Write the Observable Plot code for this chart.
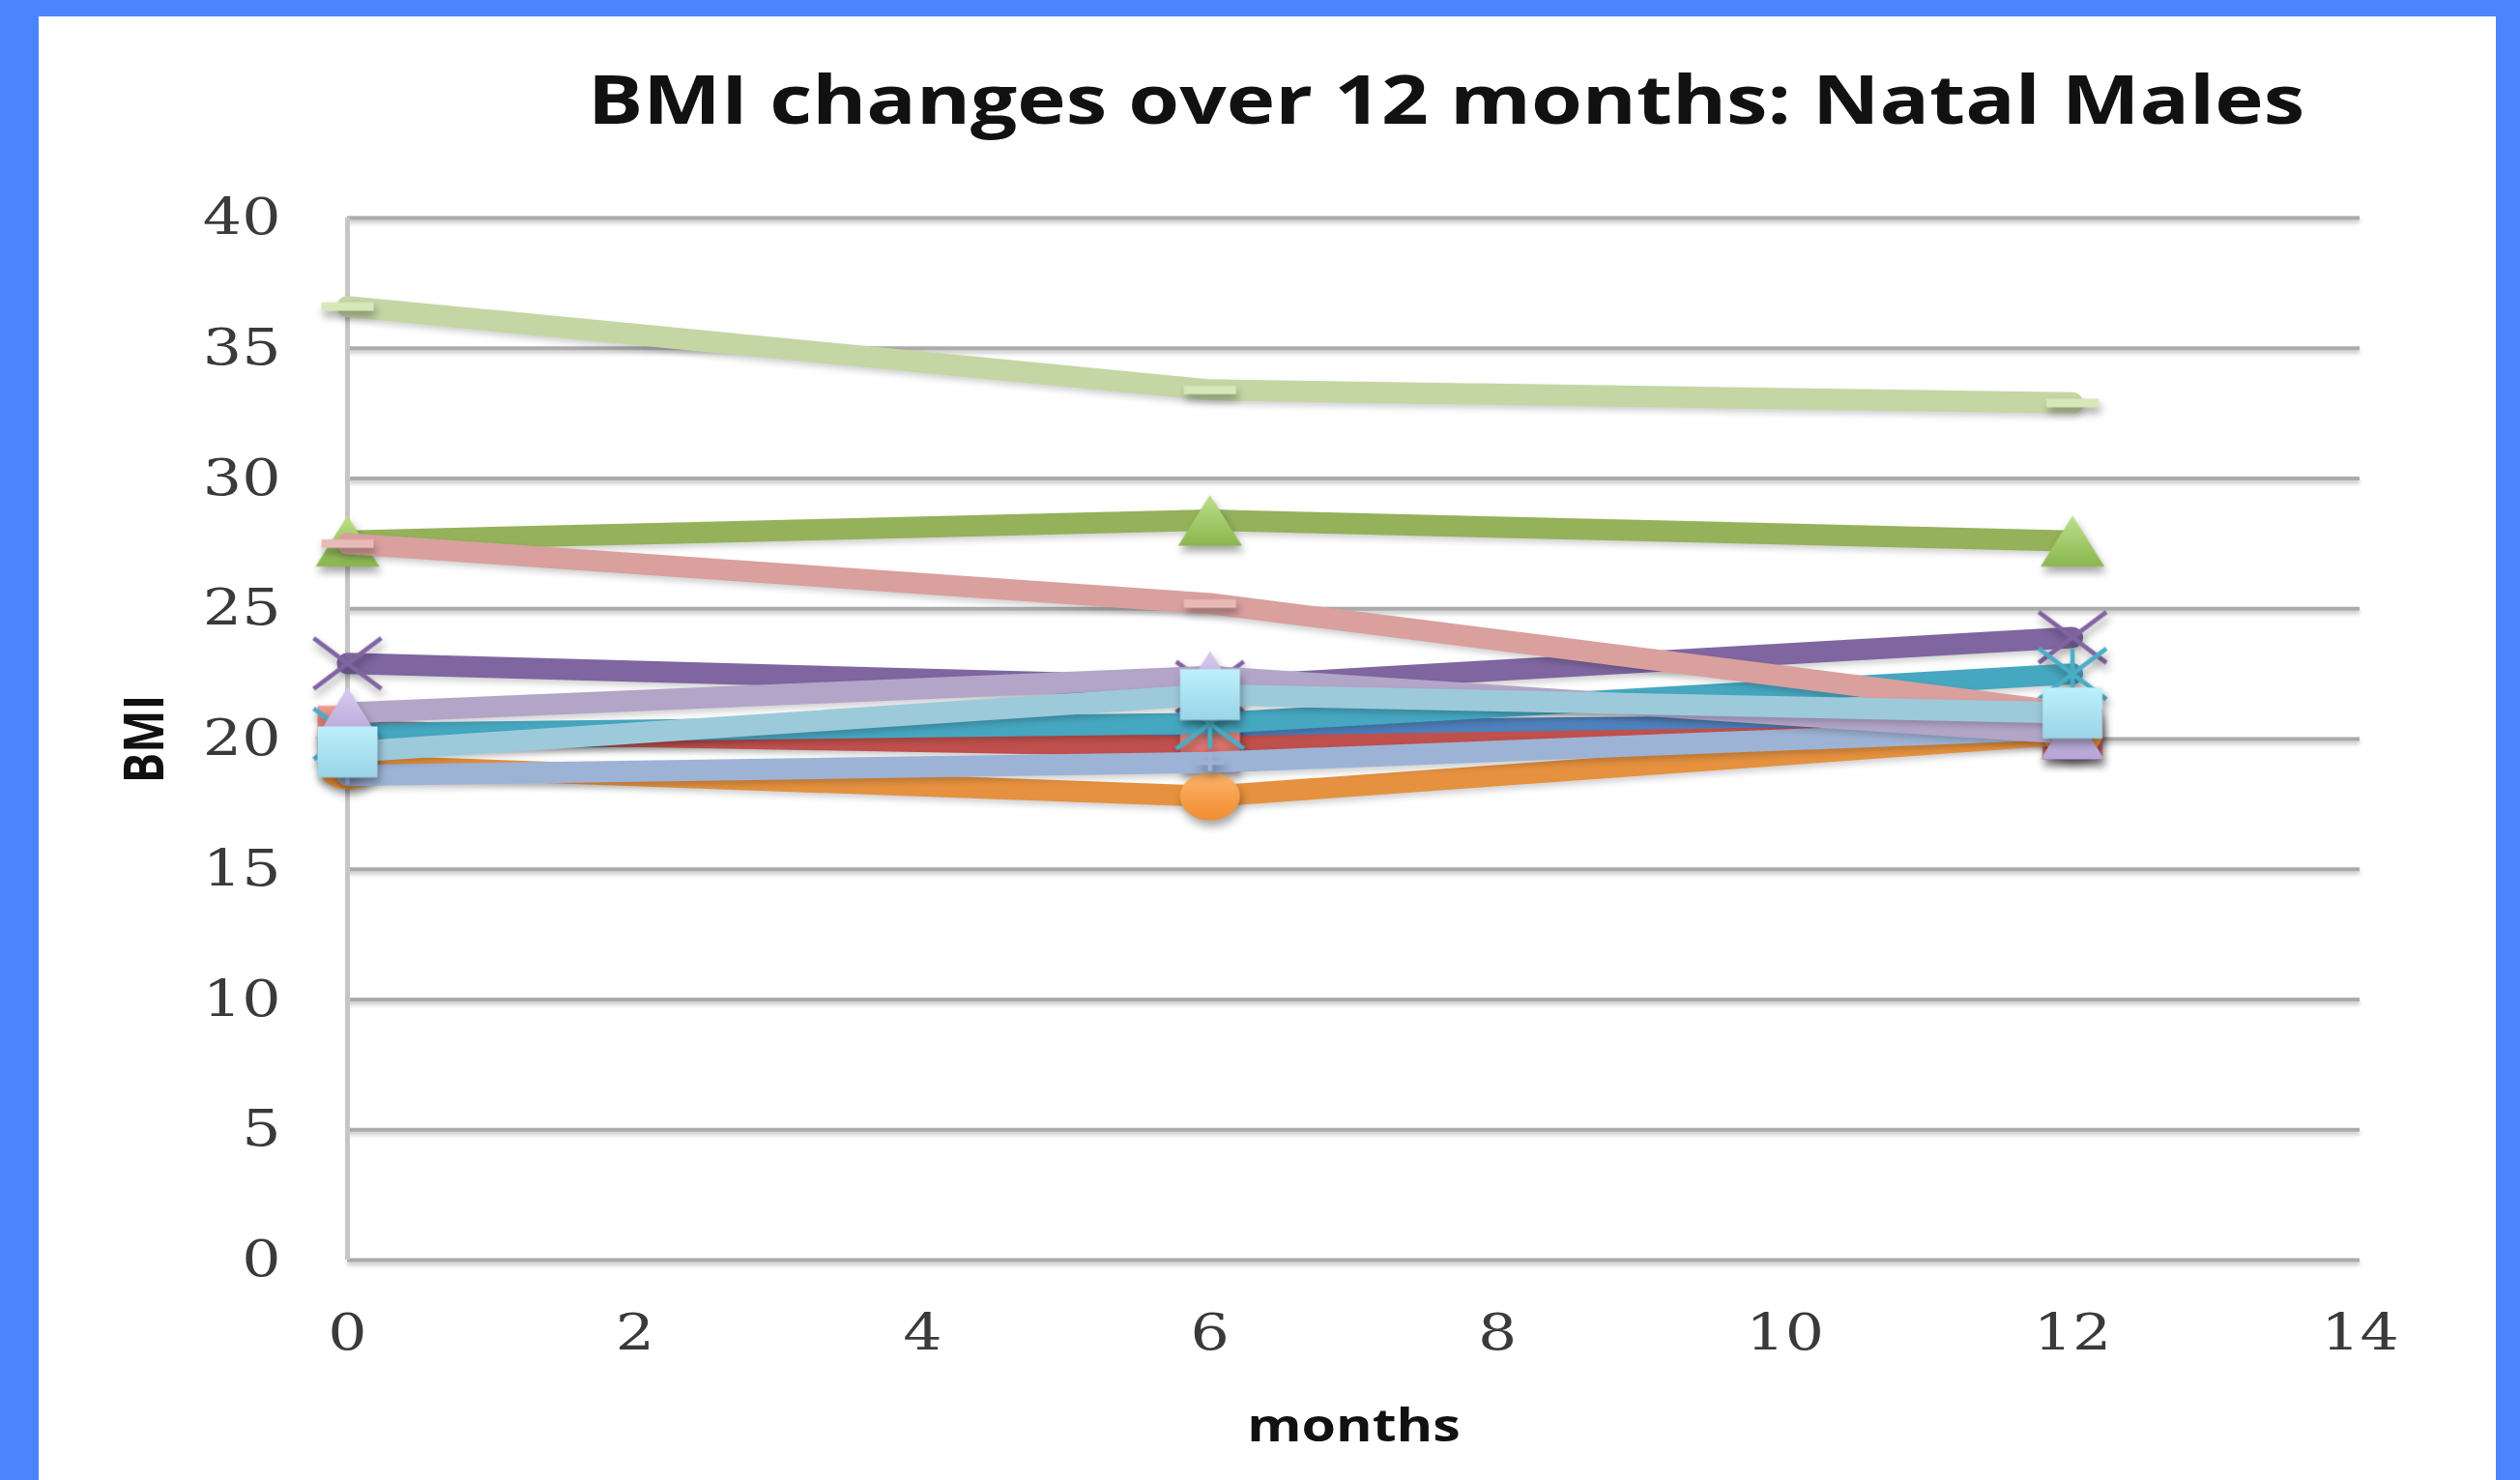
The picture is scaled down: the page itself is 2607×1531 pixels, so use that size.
<!DOCTYPE html>
<html><head><meta charset="utf-8">
<script src="https://cdn.jsdelivr.net/npm/d3@7"></script>
<script src="https://cdn.jsdelivr.net/npm/@observablehq/plot@0.6"></script>
<style>
html,body{margin:0;padding:0;background:#4A85FD;width:2607px;height:1531px;overflow:hidden;}
#panel{position:absolute;left:40px;top:17px;width:2542px;height:1514px;background:#fff;}
#spacer{height:150px;position:relative;}
#title{position:absolute;left:1456px;top:36px;line-height:100px;font:bold 70px "Open Sans",sans-serif;color:#111;white-space:nowrap;transform:translateX(-50%) scaleX(1.22);transform-origin:50% 50%;}
#chart svg{display:block;}
g[aria-label="dot"]{filter:drop-shadow(2px 6px 4px rgba(0,0,0,0.35));}
g[aria-label="line"]{filter:drop-shadow(1px 4px 3px rgba(0,0,0,0.18));}
g[aria-label="y-grid"]{filter:drop-shadow(0px 3px 2px rgba(0,0,0,0.25));}
</style></head>
<body>
<div id="panel">
  <div id="spacer"><div id="title">BMI changes over 12 months: Natal Males</div></div>
  <div id="chart"></div>
</div>
<script>
// ---- data ----
const months = [0, 6, 12];
const xTicks = [0, 2, 4, 6, 8, 10, 12, 14];
const yTicks = [0, 5, 10, 15, 20, 25, 30, 35, 40];
const seriesNames = ["Patient 1","Patient 2","Patient 3","Patient 4","Patient 5","Patient 6",
                     "Patient 7","Patient 8","Patient 9","Patient 10","Patient 11"];
const patient1  = [20.0, 20.3, 20.6];
const patient2  = [20.3, 19.7, 20.2];
const patient3  = [27.6, 28.4, 27.6];
const patient4  = [22.9, 22.0, 23.9];
const patient5  = [20.2, 20.6, 22.5];
const patient6  = [19.0, 17.8, 20.2];
const patient7  = [18.6, 19.1, 20.4];
const patient8  = [27.5, 25.2, 21.0];
const patient9  = [36.6, 33.4, 32.9];
const patient10 = [21.0, 22.4, 20.2];
const patient11 = [19.5, 21.7, 21.0];
const allValues = [patient1,patient2,patient3,patient4,patient5,patient6,patient7,patient8,patient9,patient10,patient11];

// ---- styles ----
const lineColors = ["#4F81BD","#C0504D","#95B15A","#7F66A0","#46A7C0","#E5913F",
                    "#9DB3D6","#D9A09E","#C4D6A4","#B3A5C8","#9CCADB"];
const markerKinds = ["diamond","square","triangle","times","star","circle",
                     "plus","dash","dash","triangle","square"];
const markerFills = ["url(#g1)","url(#g2)","url(#g3)","none","none","url(#g6)",
                     "none","#E9BAB8","#D6E8B8","url(#g10)","url(#g11)"];
const markerStrokes = ["none","none","none","#8064A2","#4BACC6","none",
                       "#9DB3D6","none","none","none","none"];
const gradients = [
  ["g1","#8FB3E3","#5C88C4"],
  ["g2","#F39A93","#D0554F"],
  ["g3","#BCE08C","#8BB64E"],
  ["g6","#FDB56A","#F28D30"],
  ["g10","#D8CBF0","#B8A5D8"],
  ["g11","#BDF0FB","#9AD5E8"]
];

// ---- custom symbols (size = pi r^2, w = sqrt(size)) ----
function sym(draw){ return {draw(ctx, size){ draw(ctx, Math.sqrt(size)); }}; }
const symbols = {
  triangle: sym((c,w)=>{const h=w*0.8; c.moveTo(0,-h/2); c.lineTo(w/2,h/2); c.lineTo(-w/2,h/2); c.closePath();}),
  square: sym((c,w)=>{const h=w*0.85; c.rect(-w/2,-h/2,w,h);}),
  diamond: sym((c,w)=>{const h=w*0.85; c.moveTo(0,-h/2); c.lineTo(w/2,0); c.lineTo(0,h/2); c.lineTo(-w/2,0); c.closePath();}),
  circle: sym((c,w)=>{const a=w/2,b=w*0.4,k=0.5523;
    c.moveTo(a,0); c.bezierCurveTo(a,b*k,a*k,b,0,b); c.bezierCurveTo(-a*k,b,-a,b*k,-a,0);
    c.bezierCurveTo(-a,-b*k,-a*k,-b,0,-b); c.bezierCurveTo(a*k,-b,a,-b*k,a,0); c.closePath();}),
  times: sym((c,w)=>{const h=w*0.75; c.moveTo(-w/2,-h/2); c.lineTo(w/2,h/2); c.moveTo(w/2,-h/2); c.lineTo(-w/2,h/2);}),
  star: sym((c,w)=>{const h=w*0.75; c.moveTo(-w/2,-h/2); c.lineTo(w/2,h/2); c.moveTo(w/2,-h/2); c.lineTo(-w/2,h/2); c.moveTo(0,-h/2); c.lineTo(0,h/2);}),
  plus: sym((c,w)=>{const h=w*0.6; c.moveTo(-w/2,0); c.lineTo(w/2,0); c.moveTo(0,-h/2); c.lineTo(0,h/2);}),
  dash: sym((c,w)=>{const h=w*0.16; c.rect(-w/2,-h/2,w,h);})
};
const markerWidths = {triangle:66, square:62, diamond:62, circle:62, times:70, star:70, plus:30, dash:54};

// ---- table ----
const rows = [];
allValues.forEach((vals, i) => vals.forEach((v, j) => rows.push({series: seriesNames[i], idx: i, month: months[j], bmi: v})));

const marks = [
  () => {
    const defs = d3.create("svg:defs");
    gradients.forEach(([id, top, bottom]) => {
      const g = defs.append("linearGradient").attr("id", id).attr("x1",0).attr("y1",0).attr("x2",0).attr("y2",1);
      g.append("stop").attr("offset","0%").attr("stop-color", top);
      g.append("stop").attr("offset","100%").attr("stop-color", bottom);
    });
    return defs.node();
  },
  Plot.gridY(yTicks, {stroke: "#ababab", strokeOpacity: 1, strokeWidth: 4}),
  Plot.ruleX([0], {stroke: "#c6c6c6", strokeWidth: 5}),
  Plot.axisX({ticks: xTicks, tickSize: 0, tickPadding: 56, label: null, fill: "#3a3a3a"}),
  Plot.axisY({ticks: yTicks, tickSize: 0, tickPadding: 69, label: null, fill: "#3a3a3a"}),
  Plot.text(["months"], {frameAnchor: "bottom", dy: 187, text: d => d, fontFamily: "Open Sans", fontWeight: "bold", fontSize: 47, fill: "#111"}),
  Plot.text(["BMI"], {frameAnchor: "left", dx: -209, rotate: -90, textAnchor: "middle", lineAnchor: "middle", text: d => d, fontFamily: "Open Sans", fontWeight: "bold", fontSize: 47, fill: "#111"})
];
seriesNames.forEach((name, i) => {
  const data = rows.filter(r => r.idx === i);
  marks.push(Plot.line(data, {x: "month", y: "bmi", stroke: lineColors[i], strokeWidth: 22, strokeLinejoin: "round"}));
  const kind = markerKinds[i];
  const stroked = markerStrokes[i] !== "none";
  marks.push(Plot.dot(data, {
    x: "month", y: "bmi",
    symbol: symbols[kind],
    r: markerWidths[kind] / Math.sqrt(Math.PI),
    fill: markerFills[i],
    stroke: markerStrokes[i],
    strokeWidth: stroked ? 4.5 : 0
  }));
});

const plot = Plot.plot({
  width: 2542, height: 1364,
  marginTop: 58, marginBottom: 228, marginLeft: 319, marginRight: 141,
  style: {fontFamily: "DejaVu Serif", fontSize: "52px", background: "white", color: "#3a3a3a"},
  x: {domain: [0, 14]},
  y: {domain: [0, 40]},
  marks
});

// widen text horizontally (the reference chart is stretched sideways)
function stretch(el, s) {
  let t = el.getAttribute("transform");
  if (!t) {
    const x = +el.getAttribute("x") || 0, y = +el.getAttribute("y") || 0;
    el.removeAttribute("x"); el.removeAttribute("y");
    t = `translate(${x},${y})`;
  }
  if (t.includes("rotate")) t = t.replace("rotate", `scale(${s},1) rotate`);
  else t = t + ` scale(${s},1)`;
  el.setAttribute("transform", t);
}
d3.select(plot).selectAll("text").each(function() { stretch(this, 1.22); });
document.getElementById("chart").appendChild(plot);
</script>
</body></html>
